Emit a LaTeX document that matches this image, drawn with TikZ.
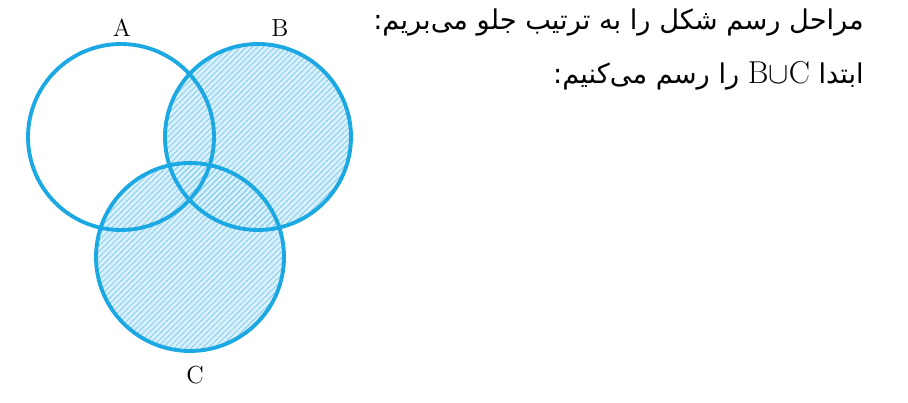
\documentclass[tikz,border=0pt]{standalone}
\usepackage{fontspec}
\newfontfamily\persfont[Script=Arabic]{DejaVu Sans}
\TeXXeTstate=1
\usetikzlibrary{patterns.meta}
\definecolor{setblue}{RGB}{28,168,226}
\definecolor{shadeblue}{RGB}{218,240,251}
\begin{document}
\begin{tikzpicture}[x=0.02cm,y=-0.02cm]
\useasboundingbox (0,0) rectangle (908,402);
% Shaded region B u C
\fill[shadeblue] (258,137) circle (93);
\fill[shadeblue] (190,257) circle (94);
\fill[pattern={Lines[angle=45,distance=2.3pt,line width=0.5pt]}, pattern color=setblue!55] (258,137) circle (93);
\fill[pattern={Lines[angle=45,distance=2.3pt,line width=0.5pt]}, pattern color=setblue!55] (190,257) circle (94);
% Boundaries
\draw[line width=2.2pt, setblue] (121,137) circle (93);
\draw[line width=2.2pt, setblue] (258,137) circle (93);
\draw[line width=2.2pt, setblue] (190,257) circle (94);
% Labels
\node[font=\fontsize{14}{16}\selectfont] (labA) at (122,28) {A};
\node[font=\fontsize{14}{16}\selectfont] (labB) at (280,28) {B};
\node[font=\fontsize{14}{16}\selectfont] (labC) at (195,375) {C};
% Text
\node[anchor=east, font=\persfont\fontsize{15.5}{18}\selectfont] (line1) at (870,22)
  {\beginR مراحل رسم شکل را به ترتیب جلو می‌بریم:\endR};
\node[anchor=east, font=\persfont\fontsize{15.5}{18}\selectfont] (line2) at (870,76)
  {\beginR ابتدا \beginL{\fontsize{18}{20}\selectfont$\mathrm{B}{\cup}\mathrm{C}$}\endL{} را رسم می‌کنیم:\endR};
\end{tikzpicture}
\end{document}
